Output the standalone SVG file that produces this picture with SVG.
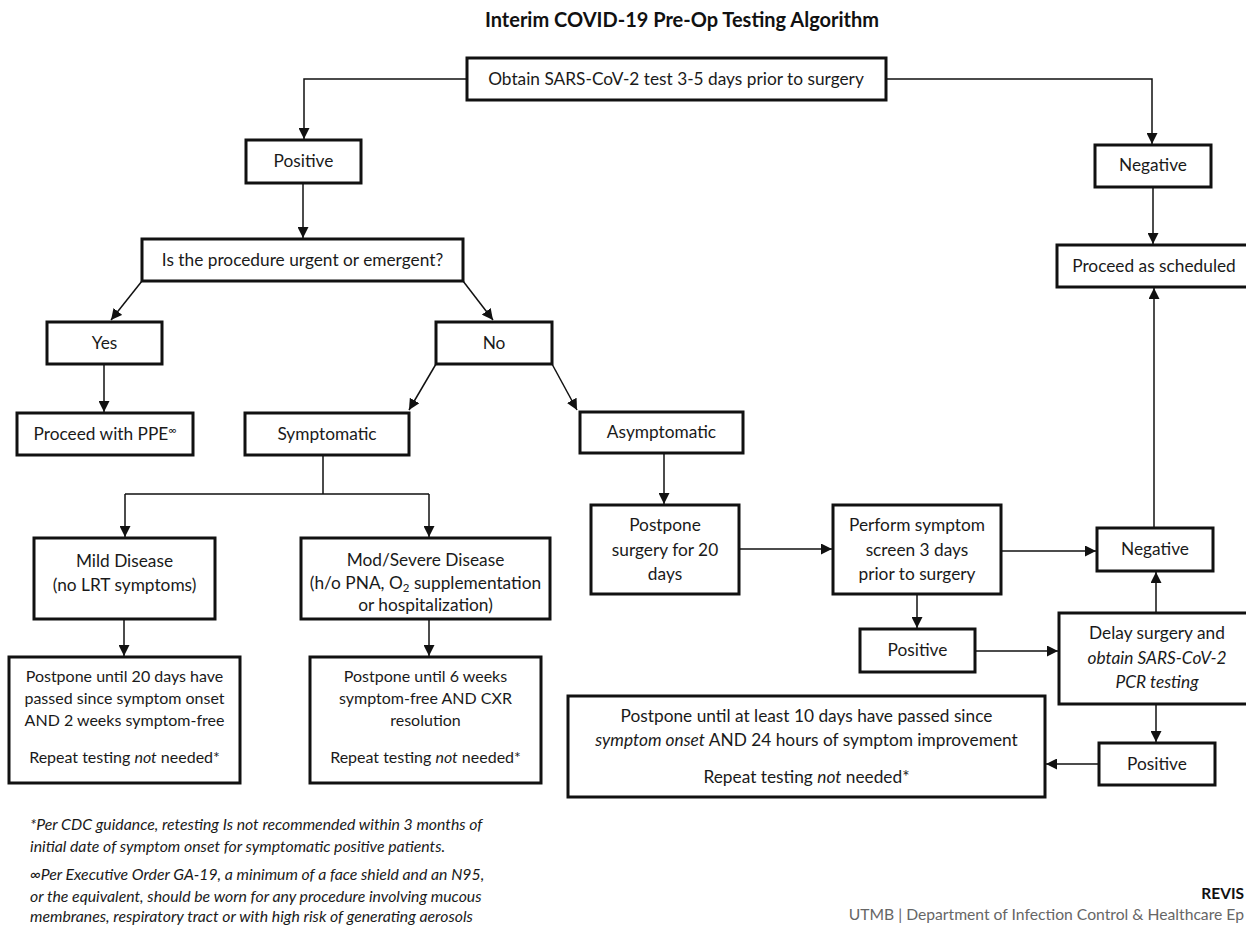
<svg xmlns="http://www.w3.org/2000/svg" width="1246" height="931" viewBox="0 0 1246 931">
<defs>
<marker id="ah" viewBox="0 0 10 10" refX="10" refY="5" markerWidth="11" markerHeight="11" markerUnits="userSpaceOnUse" orient="auto"><path d="M0,0 L10,5 L0,10 z" fill="#111"/></marker>
<style>
.b{fill:#fff;stroke:#111;stroke-width:3}
.t{font-family:Lato,"Liberation Sans",sans-serif;font-size:17.3px;fill:#1a1a1a;text-anchor:middle}
.s{font-size:16px}
.i{font-style:italic}
.c{fill:none;stroke:#111;stroke-width:1.5;marker-end:url(#ah)}
.l{fill:none;stroke:#111;stroke-width:1.5}
.fn{font-family:Lato,"Liberation Sans",sans-serif;font-size:15.8px;font-style:italic;fill:#1a1a1a}
</style>
</defs>
<rect width="1246" height="931" fill="#fff"/>
<text x="682" y="27" style="font-family:Lato,'Liberation Sans',sans-serif;font-size:20px;font-weight:bold;fill:#111;text-anchor:middle">Interim COVID-19 Pre-Op Testing Algorithm</text>

<g id="connectors">
<path class="c" d="M467,79 H304 V139"/>
<path class="c" d="M886,79 H1152 V144"/>
<path class="c" d="M303,183 V238"/>
<path class="c" d="M142,281 L111,320"/>
<path class="c" d="M463,281 L493,320"/>
<path class="c" d="M104,364 V412"/>
<path class="c" d="M1153,187 V244"/>
<path class="c" d="M436,364 L409,410"/>
<path class="c" d="M552,364 L577,410"/>
<path class="l" d="M323,455 V494 M125,494 H429"/>
<path class="c" d="M125,494 V537"/>
<path class="c" d="M429,494 V537"/>
<path class="c" d="M124,619 V656"/>
<path class="c" d="M429,619 V656"/>
<path class="c" d="M664,453 V504"/>
<path class="c" d="M739,549 H832"/>
<path class="c" d="M1001,551 H1096"/>
<path class="c" d="M1154,528 V288"/>
<path class="c" d="M917,594 V628"/>
<path class="c" d="M975,651 H1058"/>
<path class="c" d="M1156,613 V572"/>
<path class="c" d="M1156,704 V742"/>
<path class="c" d="M1099,764 H1046"/>
</g>

<g id="start"><rect class="b" x="467" y="58" width="419" height="42"/><text class="t" x="676" y="85">Obtain SARS-CoV-2 test 3-5 days prior to surgery</text></g>
<g id="positive1"><rect class="b" x="246" y="140" width="115" height="43"/><text class="t" x="303.5" y="167">Positive</text></g>
<g id="negative1"><rect class="b" x="1095" y="145" width="116" height="42"/><text class="t" x="1153" y="171">Negative</text></g>
<g id="question"><rect class="b" x="142" y="239" width="321" height="42"/><text class="t" x="302.5" y="266">Is the procedure urgent or emergent?</text></g>
<g id="proceed-scheduled"><rect class="b" x="1057" y="245" width="210" height="42"/><text class="t" x="1154" y="272">Proceed as scheduled</text></g>
<g id="yes"><rect class="b" x="47" y="322" width="115" height="42"/><text class="t" x="104.5" y="349">Yes</text></g>
<g id="no"><rect class="b" x="436" y="322" width="116" height="42"/><text class="t" x="494" y="349">No</text></g>
<g id="proceed-ppe"><rect class="b" x="17" y="413" width="176" height="42"/><text class="t" x="105" y="440">Proceed with PPE<tspan font-size="11" dy="-6">∞</tspan></text></g>
<g id="symptomatic"><rect class="b" x="245" y="413" width="164" height="42"/><text class="t" x="327" y="440">Symptomatic</text></g>
<g id="asymptomatic"><rect class="b" x="580" y="412" width="163" height="41"/><text class="t" x="661.5" y="438">Asymptomatic</text></g>
<g id="mild"><rect class="b" x="34" y="538" width="181" height="81"/><text class="t" x="124.5" y="567">Mild Disease</text><text class="t" x="124.5" y="591">(no LRT symptoms)</text></g>
<g id="modsevere"><rect class="b" x="301" y="538" width="249" height="81"/><text class="t" x="425.5" y="566">Mod/Severe Disease</text><text class="t" x="425.5" y="589">(h/o PNA, O<tspan font-size="11.5" dy="3">2</tspan><tspan dy="-3"> supplementation</tspan></text><text class="t" x="425.5" y="611">or hospitalization)</text></g>
<g id="postpone-mild"><rect class="b" x="9" y="657" width="231" height="126"/><text class="t s" x="124.5" y="682">Postpone until 20 days have</text><text class="t s" x="124.5" y="704">passed since symptom onset</text><text class="t s" x="124.5" y="726">AND 2 weeks symptom-free</text><text class="t s" x="124.5" y="763">Repeat testing <tspan class="i">not</tspan> needed*</text></g>
<g id="postpone-mod"><rect class="b" x="310" y="657" width="231" height="126"/><text class="t s" x="425.5" y="682">Postpone until 6 weeks</text><text class="t s" x="425.5" y="704">symptom-free AND CXR</text><text class="t s" x="425.5" y="726">resolution</text><text class="t s" x="425.5" y="763">Repeat testing <tspan class="i">not</tspan> needed*</text></g>
<g id="postpone-20"><rect class="b" x="591" y="505" width="148" height="89"/><text class="t" x="665" y="531">Postpone</text><text class="t" x="665" y="556">surgery for 20</text><text class="t" x="665" y="580">days</text></g>
<g id="screen"><rect class="b" x="833" y="505" width="168" height="89"/><text class="t" x="917" y="531">Perform symptom</text><text class="t" x="917" y="556">screen 3 days</text><text class="t" x="917" y="580">prior to surgery</text></g>
<g id="negative2"><rect class="b" x="1097" y="528" width="116" height="43"/><text class="t" x="1155" y="555">Negative</text></g>
<g id="positive2"><rect class="b" x="860" y="629" width="115" height="43"/><text class="t" x="917.5" y="656">Positive</text></g>
<g id="delay"><rect class="b" x="1059" y="613" width="210" height="91"/><text class="t" x="1157" y="639">Delay surgery and</text><text class="t i" x="1157" y="664">obtain SARS-CoV-2</text><text class="t i" x="1157" y="688">PCR testing</text></g>
<g id="positive3"><rect class="b" x="1099" y="743" width="116" height="42"/><text class="t" x="1157" y="770">Positive</text></g>
<g id="postpone-10"><rect class="b" x="568" y="696" width="477" height="101"/><text class="t" x="806.5" y="722">Postpone until at least 10 days have passed since</text><text class="t" x="806.5" y="746"><tspan class="i">symptom onset</tspan> AND 24 hours of symptom improvement</text><text class="t" x="806.5" y="783">Repeat testing <tspan class="i">not</tspan> needed*</text></g>

<g id="footnotes">
<text class="fn" x="30" y="830">*Per CDC guidance, retesting Is not recommended within 3 months of</text>
<text class="fn" x="30" y="852">initial date of symptom onset for symptomatic positive patients.</text>
<text class="fn" x="30" y="880">∞Per Executive Order GA-19, a minimum of a face shield and an N95,</text>
<text class="fn" x="30" y="902">or the equivalent, should be worn for any procedure involving mucous</text>
<text class="fn" x="30" y="922">membranes, respiratory tract or with high risk of generating aerosols</text>
</g>
<g id="footer">
<text x="1244" y="899" style="font-family:Lato,'Liberation Sans',sans-serif;font-size:15.5px;font-weight:bold;fill:#111;text-anchor:end">REVIS</text>
<text x="1244" y="920" style="font-family:Lato,'Liberation Sans',sans-serif;font-size:15.7px;fill:#666;text-anchor:end">UTMB | Department of Infection Control &amp; Healthcare Ep</text>
</g>
</svg>
